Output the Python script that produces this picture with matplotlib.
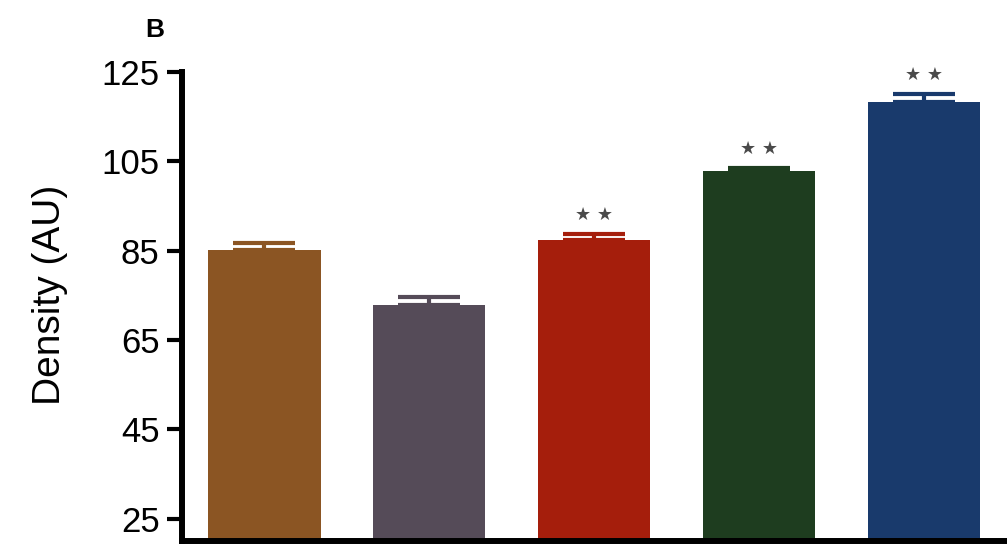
import matplotlib
matplotlib.use('Agg')
import matplotlib.pyplot as plt

# valores
groups = ['G1', 'G2', 'G3', 'G4', 'G5']
means = [85.1, 72.8, 87.3, 102.8, 118.3]
sem = [1.6, 1.8, 1.4, 0.7, 1.8]
signif = ['', '', '**', '**', '**']
colors = ['#8B5523', '#554B58', '#A51E0C', '#1E3D1F', '#193A6C']
yticks = [25, 45, 65, 85, 105, 125]

plt.rcParams['font.family'] = ['Liberation Sans', 'DejaVu Sans']

fig = plt.figure(figsize=(10.07, 5.44), dpi=100)
ax = fig.add_axes([0.1807, 0.0055, 0.819, 0.8625])

x = range(len(groups))
ax.bar(x, [m - 20 for m in means], bottom=20, width=0.68, color=colors)
for i in x:
    ax.errorbar(i, means[i], yerr=[[0], [sem[i]]], fmt='none',
                ecolor=colors[i], elinewidth=3, capsize=22, capthick=3)
    if signif[i]:
        # estrelas de significância
        ax.text(i, means[i] + sem[i] + 4.2, '★ ★', ha='center', va='center',
                fontsize=13, color='#4a4a4a', family=['DejaVu Sans'])

ax.set_xlim(-0.5, 4.5)
ax.set_ylim(20, 125)
ax.set_yticks(yticks)
ax.set_xticks([])
ax.tick_params(axis='y', length=11, width=3, pad=5, labelsize=25)
ax.spines['top'].set_visible(False)
ax.spines['right'].set_visible(False)
ax.spines['left'].set_linewidth(4.3)
ax.spines['bottom'].set_linewidth(4.3)
ax.spines['left'].set_bounds(20, 125)
ax.set_ylabel('Density (AU)', fontsize=28, va='center')
ax.yaxis.set_label_coords(-0.16, 0.525)

fig.text(0.144, 0.945, 'B', fontsize=19, fontweight='bold', ha='left', va='center')

fig.savefig('out.png', dpi=100)
